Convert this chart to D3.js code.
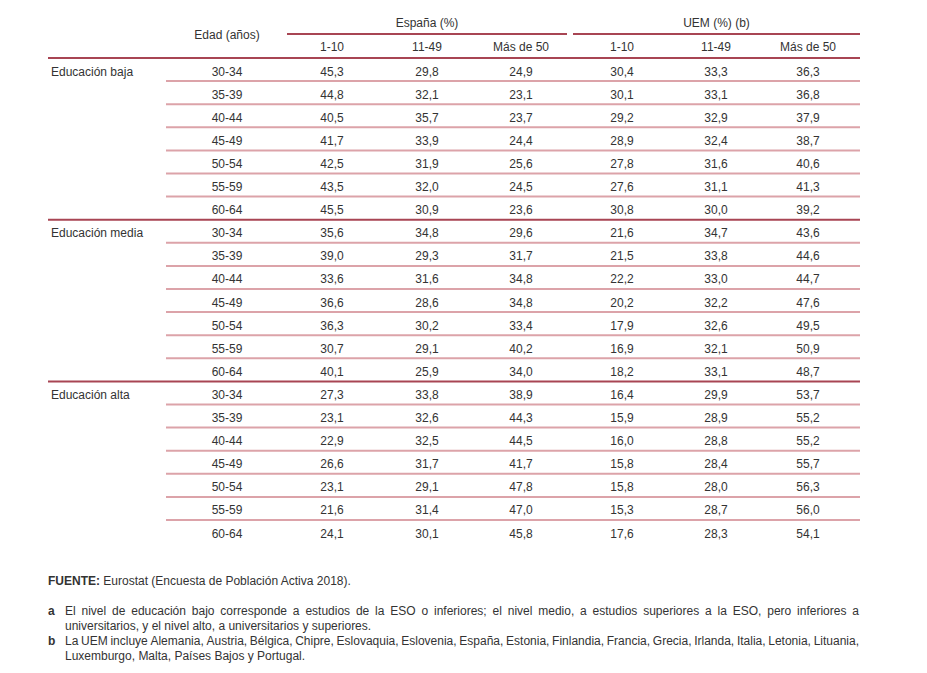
<!DOCTYPE html>
<html><head><meta charset="utf-8">
<script src="https://cdn.jsdelivr.net/npm/d3@7"></script>
<style>
html,body{margin:0;padding:0;background:#fff;}
text{font-family:"Liberation Sans",Arial,sans-serif;fill:#333;}
</style></head>
<body><svg id="c" width="927" height="673"></svg>
<script>
const groups = ["Educación baja","Educación media","Educación alta"];
const ages = ["30-34","35-39","40-44","45-49","50-54","55-59","60-64"];
const regions = ["España (%)","UEM (%) (b)"];
const sizes = ["1-10","11-49","Más de 50"];
const espBaja  = [[45.3,29.8,24.9],[44.8,32.1,23.1],[40.5,35.7,23.7],[41.7,33.9,24.4],[42.5,31.9,25.6],[43.5,32.0,24.5],[45.5,30.9,23.6]];
const uemBaja  = [[30.4,33.3,36.3],[30.1,33.1,36.8],[29.2,32.9,37.9],[28.9,32.4,38.7],[27.8,31.6,40.6],[27.6,31.1,41.3],[30.8,30.0,39.2]];
const espMedia = [[35.6,34.8,29.6],[39.0,29.3,31.7],[33.6,31.6,34.8],[36.6,28.6,34.8],[36.3,30.2,33.4],[30.7,29.1,40.2],[40.1,25.9,34.0]];
const uemMedia = [[21.6,34.7,43.6],[21.5,33.8,44.6],[22.2,33.0,44.7],[20.2,32.2,47.6],[17.9,32.6,49.5],[16.9,32.1,50.9],[18.2,33.1,48.7]];
const espAlta  = [[27.3,33.8,38.9],[23.1,32.6,44.3],[22.9,32.5,44.5],[26.6,31.7,41.7],[23.1,29.1,47.8],[21.6,31.4,47.0],[24.1,30.1,45.8]];
const uemAlta  = [[16.4,29.9,53.7],[15.9,28.9,55.2],[16.0,28.8,55.2],[15.8,28.4,55.7],[15.8,28.0,56.3],[15.3,28.7,56.0],[17.6,28.3,54.1]];
const source = ["FUENTE:"," Eurostat (Encuesta de Población Activa 2018)."];
const notes = [
  {k:"a", lines:["El nivel de educación bajo corresponde a estudios de la ESO o inferiores; el nivel medio, a estudios superiores a la ESO, pero inferiores a","universitarios, y el nivel alto, a universitarios y superiores."]},
  {k:"b", lines:["La UEM incluye Alemania, Austria, Bélgica, Chipre, Eslovaquia, Eslovenia, España, Estonia, Finlandia, Francia, Grecia, Irlanda, Italia, Letonia, Lituania,","Luxemburgo, Malta, Países Bajos y Portugal."]}
];

const dataByGroup = [[espBaja,uemBaja],[espMedia,uemMedia],[espAlta,uemAlta]];
const fmt = v => d3.format(".1f")(v).replace(".", ",");

const svg = d3.select("#c");
const dark = "#a84553", light = "#dca3a9";
const fs = 12;

const colX = [332, 427, 521, 622, 716, 808];
const ageX = 227;
const left = 48, right = 860;
const rowH = 23.1, top0 = 58;
const y = d3.scaleLinear().domain([0,21]).range([top0, top0+21*rowH]);

// header
const regionSpans = [[287,567],[573,860]];
regions.forEach((r,i)=>{
  const [a,b]=regionSpans[i];
  svg.append("text").attr("x",(a+b)/2).attr("y",27).attr("text-anchor","middle").attr("font-size",fs).text(r);
  svg.append("line").attr("x1",a).attr("x2",b).attr("y1",34).attr("y2",34).attr("stroke",dark).attr("stroke-width",2);
  sizes.forEach((s,j)=>{
    svg.append("text").attr("x",colX[i*3+j]).attr("y",51).attr("text-anchor","middle").attr("font-size",fs).text(s);
  });
});
svg.append("text").attr("x",ageX).attr("y",39).attr("text-anchor","middle").attr("font-size",fs).text("Edad (años)");
svg.append("line").attr("x1",left).attr("x2",right).attr("y1",top0).attr("y2",top0).attr("stroke",dark).attr("stroke-width",2);

// body
const off = 6;
groups.forEach((g,gi)=>{
  const base = gi*ages.length;
  svg.append("text").attr("x",left+3).attr("y",y(base+0.5)+off).attr("font-size",fs).text(g);
  if(gi>0) svg.append("line").attr("x1",left).attr("x2",right).attr("y1",y(base)).attr("y2",y(base)).attr("stroke",dark).attr("stroke-width",2);
  ages.forEach((a,ai)=>{
    const r = base+ai;
    if(ai>0) svg.append("line").attr("x1",166).attr("x2",right).attr("y1",y(r)).attr("y2",y(r)).attr("stroke",light).attr("stroke-width",2);
    svg.append("text").attr("x",ageX).attr("y",y(r+0.5)+off).attr("text-anchor","middle").attr("font-size",fs).text(a);
    dataByGroup[gi].forEach((reg,ri)=>{
      reg[ai].forEach((v,ci)=>{
        svg.append("text").attr("x",colX[ri*3+ci]).attr("y",y(r+0.5)+off).attr("text-anchor","middle").attr("font-size",fs).text(fmt(v));
      });
    });
  });
});

// footer
const fsF = 12;
const src = svg.append("text").attr("x",left).attr("y",585).attr("font-size",fsF);
src.append("tspan").attr("font-weight","bold").text(source[0]);
src.append("tspan").text(source[1]);

function justified(str, x0, x1, yy){
  const words = str.split(" ");
  const g = svg.append("g");
  const els = words.map(w=>g.append("text").attr("y",yy).attr("font-size",fsF).text(w));
  const widths = els.map(e=>e.node().getComputedTextLength());
  const total = d3.sum(widths);
  const gap = (x1-x0-total)/(words.length-1);
  let x = x0;
  els.forEach((e,i)=>{ e.attr("x",x); x += widths[i]+gap; });
}
const noteY = [[615,630],[645,660]];
notes.forEach((n,ni)=>{
  svg.append("text").attr("x",left).attr("y",noteY[ni][0]).attr("font-size",fsF).attr("font-weight","bold").text(n.k);
  justified(n.lines[0], 65, 859, noteY[ni][0]);
  svg.append("text").attr("x",65).attr("y",noteY[ni][1]).attr("font-size",fsF).text(n.lines[1]);
});
</script></body></html>
